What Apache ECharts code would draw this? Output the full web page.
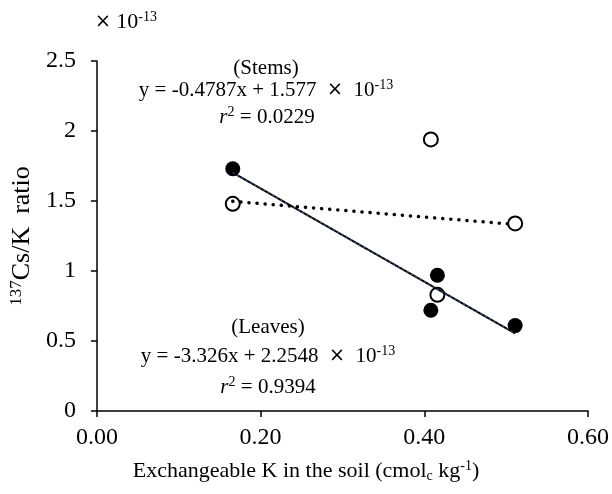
<!DOCTYPE html>
<html>
<head>
<meta charset="utf-8">
<script src="https://cdn.jsdelivr.net/npm/echarts@6/dist/echarts.min.js"></script>
<style>
  html, body { margin: 0; padding: 0; background: #fff; }
  #chart { width: 612px; height: 494px; }
</style>
</head>
<body>
<div id="chart"></div>
<script>
// exchangeable K (cmol_c kg-1) of the four soils
const kSoil = [0.166, 0.408, 0.416, 0.511]
const leavesRatio = [1.73, 0.72, 0.97, 0.61]
const stemsRatio = [1.48, 1.94, 0.83, 1.34]
// fitted lines (x 1e-13)
const leavesFit = { slope: -3.326, intercept: 2.2548 }
const stemsFit = { slope: -0.4787, intercept: 1.577 }
const xTicks = [0, 0.2, 0.4, 0.6]
const yTicks = [0, 0.5, 1, 1.5, 2, 2.5]

const serif = '"Liberation Serif", "DejaVu Serif", serif'
const xMin = Math.min(...kSoil)
const xMax = Math.max(...kSoil)

function fitLine(fit) {
  return [xMin, xMax].map(x => [x, fit.slope * x + fit.intercept])
}
function pairs(ys) {
  return kSoil.map((x, i) => [x, ys[i]])
}

const rich = {
  sup: { fontFamily: serif, fontSize: 14, verticalAlign: 'top', lineHeight: 24 },
  sub: { fontFamily: serif, fontSize: 14, verticalAlign: 'bottom', lineHeight: 24 },
  it: { fontFamily: serif, fontSize: 21, fontStyle: 'italic', lineHeight: 24 },
  t: { fontFamily: serif, fontSize: 21, lineHeight: 24 },
  b: { fontFamily: serif, fontSize: 22, lineHeight: 24 },
  x: { fontFamily: '"DejaVu Sans", sans-serif', fontSize: 19, lineHeight: 24 },
}

function note(text, x, y) {
  return {
    type: 'text',
    x: x,
    y: y,
    style: {
      text: text,
      rich: rich,
      fill: '#000',
      align: 'center',
      verticalAlign: 'middle',
      font: '21px ' + serif,
    },
  }
}

const chart = echarts.init(document.getElementById('chart'))
chart.setOption({
  backgroundColor: '#fff',
  animation: false,
  grid: { left: 95, right: 24, top: 61, bottom: 83 },
  xAxis: {
    type: 'value',
    min: xTicks[0],
    max: xTicks[xTicks.length - 1],
    interval: xTicks[1] - xTicks[0],
    axisLine: { onZero: false, lineStyle: { color: '#000', width: 1.5 } },
    axisTick: { show: true, length: 6, lineStyle: { color: '#000', width: 1.5 } },
    axisLabel: {
      margin: 15,
      color: '#000',
      fontFamily: serif,
      fontSize: 24,
      formatter: v => v.toFixed(2),
    },
    splitLine: { show: false },
  },
  yAxis: {
    type: 'value',
    min: yTicks[0],
    max: yTicks[yTicks.length - 1],
    interval: yTicks[1] - yTicks[0],
    axisLine: { show: true, onZero: false, lineStyle: { color: '#000', width: 1.5 } },
    axisTick: { show: true, length: 6, lineStyle: { color: '#000', width: 1.5 } },
    axisLabel: { margin: 21, color: '#000', fontFamily: serif, fontSize: 24 },
    splitLine: { show: false },
    name: '{s|137}{n|Cs/K  ratio}',
    nameLocation: 'middle',
    nameRotate: 90,
    nameGap: 47,
    nameTextStyle: {
      rich: {
        s: { fontFamily: serif, fontSize: 17, verticalAlign: 'top', lineHeight: 28 },
        n: { fontFamily: serif, fontSize: 26, color: '#000', lineHeight: 28 },
      },
    },
  },
  graphic: [
    note('{x|×} {b|10}{sup|-13}', 126, 22),
    note('(Stems)', 266, 68),
    note('{t|y = -0.4787x + 1.577  }{x|×}{t|  10}{sup|-13}', 266, 90),
    note('{it|r}{sup|2}{t| = 0.0229}', 267, 117),
    note('(Leaves)', 268, 327),
    note('{t|y = -3.326x + 2.2548  }{x|×}{t|  10}{sup|-13}', 268, 356),
    note('{it|r}{sup|2}{t| = 0.9394}', 268, 387),
    note('{b|Exchangeable K in the soil (cmol}{sub|c}{b| kg}{sup|-1}{b|)}', 306, 471),
  ],
  series: [
    {
      name: 'Leaves',
      type: 'scatter',
      data: pairs(leavesRatio),
      symbol: 'circle',
      symbolSize: 15,
      itemStyle: { color: '#000', opacity: 1 },
      z: 2,
    },
    {
      name: 'Stems',
      type: 'scatter',
      data: pairs(stemsRatio),
      symbol: 'circle',
      symbolSize: 14,
      itemStyle: { color: '#fff', borderColor: '#000', borderWidth: 2, opacity: 1 },
      z: 2,
    },
    {
      name: 'Leaves fit',
      type: 'line',
      data: fitLine(leavesFit),
      symbol: 'none',
      lineStyle: { color: '#000', width: 2 },
      z: 3,
    },
    {
      name: 'Leaves fit overlay',
      type: 'line',
      data: fitLine(leavesFit),
      symbol: 'none',
      lineStyle: { color: '#4472c4', width: 1, type: [2, 3] },
      z: 4,
    },
    {
      name: 'Stems fit',
      type: 'line',
      data: fitLine(stemsFit),
      symbol: 'none',
      lineStyle: { color: '#000', width: 3.5, type: [0.1, 8], cap: 'round' },
      z: 4,
    },
  ],
})
</script>
</body>
</html>
